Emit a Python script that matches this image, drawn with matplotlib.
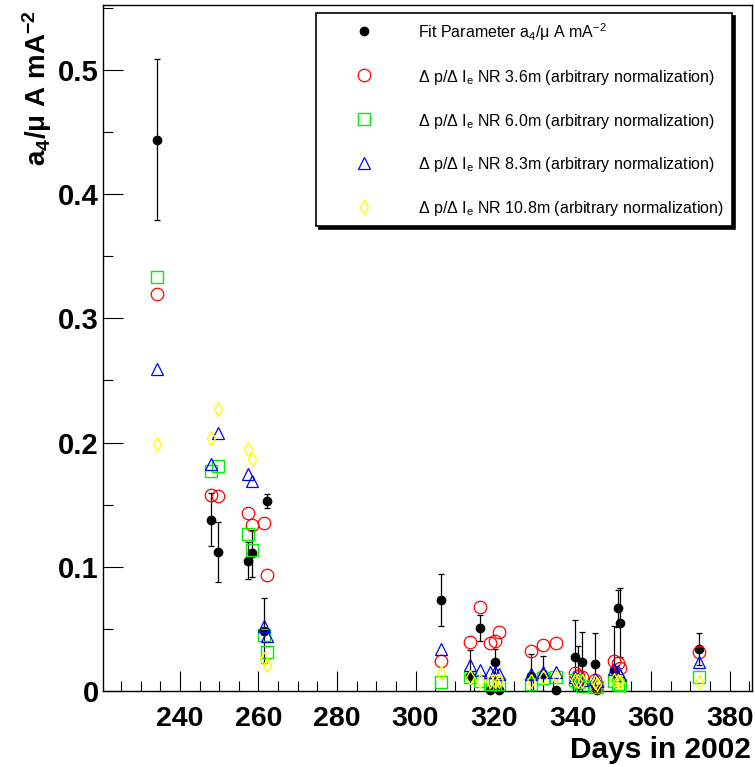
import matplotlib
matplotlib.use("Agg")
import matplotlib.pyplot as plt
from matplotlib.ticker import MultipleLocator, FuncFormatter

plt.rcParams['font.family'] = ['Liberation Sans', 'DejaVu Sans']
plt.rcParams['mathtext.fontset'] = 'custom'
plt.rcParams['mathtext.rm'] = 'Liberation Sans'
plt.rcParams['mathtext.it'] = 'Liberation Sans:italic'
plt.rcParams['mathtext.bf'] = 'Liberation Sans:bold'
plt.rcParams['mathtext.sf'] = 'Liberation Sans'

# Measurement days (day of year 2002)
days = [234.1, 247.8, 249.6, 257.4, 258.3, 261.3, 262.3, 306.5, 314.0, 316.3,
        319.1, 320.2, 321.2, 329.4, 332.5, 335.7, 340.5, 341.4, 342.3, 345.7,
        346.3, 350.5, 351.5, 352.2, 372.2]

# Fit parameter a4 and its uncertainty
fit_a4 = [0.444, 0.138, 0.112, 0.105, 0.111, 0.0486, 0.153, 0.0733, 0.012, 0.0505,
          0.001, 0.023, 0.001, 0.012, 0.014, 0.0005, 0.027, 0.005, 0.0233, 0.0217,
          0.001, 0.017, 0.0666, 0.055, 0.0338]
fit_a4_err = [0.065, 0.021, 0.024, 0.015, 0.019, 0.026, 0.0055, 0.021, 0.021, 0.0105,
              0.0, 0.011, 0.0, 0.018, 0.014, 0.0, 0.030, 0.031, 0.0245, 0.025,
              0.0, 0.035, 0.015, 0.028, 0.013]

# dp/dIe at the four NR positions (arbitrary normalization)
nr_3p6 = [0.320, 0.158, 0.157, 0.1436, 0.134, 0.135, 0.093, 0.0244, 0.0397, 0.0674,
          0.039, 0.0405, 0.0478, 0.0322, 0.037, 0.039, 0.0147, 0.012, 0.011, 0.009,
          0.004, 0.0242, 0.0224, 0.0183, 0.0317]
nr_6p0 = [0.333, 0.177, 0.181, 0.126, 0.1135, 0.045, 0.031, 0.0075, 0.011, 0.008,
          0.006, 0.006, 0.006, 0.006, 0.0105, 0.011, 0.0089, 0.007, 0.004, 0.0035,
          0.003, 0.008, 0.006, 0.005, 0.0115]
nr_8p3 = [0.259, 0.183, 0.208, 0.175, 0.169, 0.052, 0.044, 0.034, 0.021, 0.017,
          0.0155, 0.0155, 0.014, 0.014, 0.0155, 0.0156, 0.011, 0.010, 0.009, 0.010,
          0.008, 0.018, 0.016, 0.013, 0.0236]
nr_10p8 = [0.199, 0.204, 0.227, 0.195, 0.187, 0.026, 0.021, 0.0143, 0.0115, 0.0083,
           0.008, 0.008, 0.008, 0.008, 0.0115, 0.012, 0.0089, 0.008, 0.008, 0.007,
           0.006, 0.009, 0.008, 0.007, 0.007]

labels = [
    'Fit Parameter a$_4$/μ A mA$^{-2}$',
    'Δ p/Δ I$_\\mathrm{e}$ NR 3.6m (arbitrary normalization)',
    'Δ p/Δ I$_\\mathrm{e}$ NR 6.0m (arbitrary normalization)',
    'Δ p/Δ I$_\\mathrm{e}$ NR 8.3m (arbitrary normalization)',
    'Δ p/Δ I$_\\mathrm{e}$ NR 10.8m (arbitrary normalization)',
]

fig = plt.figure(figsize=(7.55, 7.67), dpi=100)
ax = fig.add_axes([0.1364, 0.0991, 0.8596, 0.8944])

eb = ax.errorbar(days, fit_a4, yerr=fit_a4_err, fmt='o', color='black', ms=6,
                 ecolor='black', elinewidth=0.9, capsize=2.5, capthick=0.9,
                 zorder=3)
eb[0].set_clip_on(False)

h_red, = ax.plot(days, nr_3p6, 'o', ls='none', mfc='none', mec='#ff0000',
                 ms=9, mew=0.9, zorder=4, clip_on=False)
h_green, = ax.plot(days, nr_6p0, 's', ls='none', mfc='none', mec='#00ee00',
                   ms=8, mew=1.0, zorder=5, clip_on=False)
h_blue, = ax.plot(days, nr_8p3, '^', ls='none', mfc='none', mec='#0000ff',
                  ms=8.5, mew=0.9, zorder=6, clip_on=False)
h_yel, = ax.plot(days, nr_10p8, 'd', ls='none', mfc='none', mec='#ffff00',
                 ms=7, mew=1.0, zorder=7, clip_on=False)

ax.set_xlim(220.4, 385.7)
ax.set_ylim(0, 0.5523)

ax.xaxis.set_major_locator(MultipleLocator(20))
ax.xaxis.set_minor_locator(MultipleLocator(5))
ax.yaxis.set_major_locator(MultipleLocator(0.1))
ax.yaxis.set_minor_locator(MultipleLocator(0.05))
ax.yaxis.set_major_formatter(FuncFormatter(lambda v, p: '0' if abs(v) < 1e-9 else f'{v:.1f}'))

ax.tick_params(which='both', direction='in', top=False, right=False, width=0.8, color='black')
ax.tick_params(which='major', length=14.4)
ax.tick_params(which='minor', length=7.2)
ax.tick_params(axis='x', which='major', labelsize=20.5, pad=11)
ax.tick_params(axis='y', which='major', labelsize=21, pad=3)
for lab in ax.get_xticklabels() + ax.get_yticklabels():
    lab.set_fontweight('bold')

for sp in ax.spines.values():
    sp.set_linewidth(1.0)
    sp.set_color('black')

ax.set_xlabel('Days in 2002', fontsize=21.5, fontweight='bold', ha='right', va='top')
ax.xaxis.set_label_coords(0.9985, -0.066)
ax.set_ylabel(r'a$_\mathbf{4}$/μ A mA$^\mathbf{-2}$', fontsize=20, fontweight='bold', loc='top')
ax.yaxis.set_label_coords(-0.075, 0.992)

leg = ax.legend([eb[0], h_red, h_green, h_blue, h_yel], labels,
                loc='upper left', bbox_to_anchor=(316 / 755, 1 - 13 / 767),
                bbox_transform=fig.transFigure, borderaxespad=0,
                fontsize=11.5, numpoints=1, borderpad=0.5, handlelength=5.0,
                handleheight=1.2, handletextpad=0.9, labelspacing=1.56,
                fancybox=False, frameon=True, shadow={'color': 'black', 'alpha': 1.0})
leg.get_frame().set_edgecolor('black')
leg.get_frame().set_linewidth(1.2)
leg.set_zorder(10)

fig.savefig('out.png', dpi=100)
